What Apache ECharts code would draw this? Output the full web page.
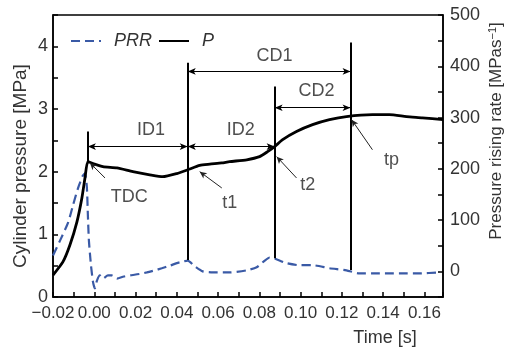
<!DOCTYPE html>
<html>
<head>
<meta charset="utf-8">
<script src="https://cdn.jsdelivr.net/npm/echarts@6/dist/echarts.min.js"></script>
<style>html,body{margin:0;padding:0;background:#fff;}#c{width:506px;height:348px;}</style>
</head>
<body>
<div id="c"></div>
<script>
// ---- data ----
const pTime = [-0.020,-0.0152,-0.0118,-0.0084,-0.006,-0.0045,-0.0031,-0.0006,0.0042,0.011,0.0187,0.0269,0.0332,0.040,0.0453,0.0511,0.056,0.0618,0.0656,0.0739,0.0801,0.084,0.0874,0.0913,0.098,0.1058,0.114,0.1222,0.1348,0.143,0.1513,0.159,0.169];
const pressure = [0.35,0.56,0.83,1.2,1.58,1.9,2.16,2.13,2.08,2.06,2.0,1.95,1.92,1.97,2.03,2.1,2.12,2.14,2.16,2.19,2.24,2.32,2.4,2.51,2.64,2.75,2.83,2.88,2.91,2.91,2.88,2.86,2.83];

const prrTime = [-0.020,-0.0166,-0.0127,-0.0103,-0.0079,-0.0055,-0.0045,-0.0036,-0.0031,-0.0026,-0.0016,-0.0006,0.0003,0.0013,0.0027,0.0042,0.0066,0.0085,0.011,0.0143,0.0173,0.0221,0.0255,0.0293,0.0327,0.0366,0.040,0.0429,0.0453,0.0487,0.0526,0.0574,0.0656,0.0739,0.0787,0.0826,0.085,0.0874,0.0932,0.0995,0.1058,0.114,0.1222,0.1285,0.1348,0.143,0.1513,0.1576,0.1672];
const prr = [31,60,95,129,162,187,191,165,110,60,12,-21,-33,-18,-8,-14,-8,-8,-14,-10,-8,-5,-2,2,6,11,16,19,21,10,0,-2,-2,2,8,21,27,25,16,12,12,6,2,-4,-4,-4,-4,-4,-2];

const xTickLabels = ['−0.02','0.00','0.02','0.04','0.06','0.08','0.10','0.12','0.14','0.16'];

// event markers: [time, bottom P, top P]
const eventLines = [[0.0453,0.59,3.74],[0.0874,0.62,3.36],[0.1242,0.43,4.06],[-0.0031,2.16,2.64]];
// interval arrows: [label, t start, t end, P level, label t, label P]
const intervals = [
  ['ID1',-0.0031,0.0453,2.40,0.0275,2.67],
  ['ID2',0.0453,0.0874,2.40,0.0710,2.67],
  ['CD1',0.0453,0.1242,3.60,0.0874,3.84],
  ['CD2',0.0874,0.1242,3.02,0.1077,3.28]
];
// pointers: [label, t at curve, P at curve, t tail, P tail, label t, label P]
const pointers = [
  ['TDC',-0.0021,2.14,0.0052,1.90,0.0170,1.60],
  ['t1',0.0511,2.00,0.0618,1.74,0.0656,1.50],
  ['t2',0.0884,2.24,0.0980,1.90,0.1034,1.79],
  ['tp',0.1247,2.83,0.1348,2.35,0.1440,2.18]
];

const FONT = 'Liberation Sans, Arial, sans-serif';
const pData = pTime.map((t,i)=>[t,pressure[i]]);
const prrData = prrTime.map((t,i)=>[t,prr[i]]);

const markData = [];
eventLines.forEach(e=>{
  markData.push([{coord:[e[0],e[1]],symbol:'none',lineStyle:{color:'#000',width:2,type:'solid'}},{coord:[e[0],e[2]],symbol:'none'}]);
});
intervals.forEach(a=>{
  markData.push([{coord:[a[1],a[3]],symbol:'arrow',symbolSize:[5,8],lineStyle:{color:'#000',width:1,type:'solid'}},{coord:[a[2],a[3]],symbol:'arrow',symbolSize:[5,8]}]);
});
pointers.forEach(p=>{
  markData.push([{coord:[p[1],p[2]],symbol:'arrow',symbolSize:[5,7],lineStyle:{color:'#222',width:1,type:'solid'}},{coord:[p[3],p[4]],symbol:'none'}]);
});
const labelData = intervals.map(a=>({name:a[0],value:[a[4],a[5]]})).concat(pointers.map(p=>({name:p[0],value:[p[5],p[6]]})));

const chart = echarts.init(document.getElementById('c'),null,{renderer:'canvas'});
chart.setOption({
  animation:false,
  backgroundColor:'#fff',
  grid:{left:53,right:63,top:15,bottom:51,show:true,borderColor:'#000',borderWidth:1.5},
  legend:{
    left:65, top:27, itemWidth:30, itemHeight:12, itemGap:6,
    data:['PRR','P'],
    itemStyle:{opacity:0},
    textStyle:{fontFamily:FONT,fontSize:18,fontStyle:'italic',color:'#333',padding:[0,0,0,8]}
  },
  xAxis:{
    type:'value', min:-0.02, max:0.169, interval:0.01,
    axisLine:{onZero:false,lineStyle:{color:'#000',width:1.5}},
    axisTick:{inside:true,length:5,lineStyle:{color:'#000',width:1.5}},
    splitLine:{show:false},
    axisLabel:{fontFamily:FONT,fontSize:17,color:'#333',margin:8,
      formatter:v=>{const k=Math.round(v*100); if(k%2!==0) return ''; const idx=(k+2)/2; return xTickLabels[idx]||'';}}
  },
  yAxis:[{
    type:'value', min:0, max:4.5, interval:0.5,
    axisLine:{show:true,onZero:false,lineStyle:{color:'#000',width:1.5}},
    axisTick:{show:true,inside:true,length:5,lineStyle:{color:'#000',width:1.5}},
    splitLine:{show:false},
    axisLabel:{fontFamily:FONT,fontSize:18,color:'#333',margin:5,formatter:v=>(Math.abs(v-Math.round(v))<1e-6?String(Math.round(v)):'')}
  },{
    type:'value', min:-50, max:500, interval:50, position:'right',
    axisLine:{show:true,onZero:false,lineStyle:{color:'#000',width:1.5}},
    axisTick:{show:true,inside:true,length:5,lineStyle:{color:'#000',width:1.5}},
    splitLine:{show:false},
    axisLabel:{fontFamily:FONT,fontSize:18,color:'#333',margin:7,formatter:v=>(v>=0&&v%100===0?String(v):'')}
  }],
  graphic:[
    {type:'text',x:21,y:166,rotation:Math.PI/2,style:{text:'Cylinder pressure [MPa]',font:'19px '+FONT,fill:'#333',align:'center',verticalAlign:'middle'}},
    {type:'text',x:496,y:131,rotation:Math.PI/2,style:{text:'Pressure rising rate [MPas{s|−1}]',font:'17px '+FONT,fill:'#333',align:'center',verticalAlign:'middle',
      rich:{s:{fontSize:11,fontFamily:FONT,fill:'#333',verticalAlign:'top',padding:[0,0,7,0]}}}},
    {type:'text',x:385,y:338,style:{text:'Time [s]',font:'18px '+FONT,fill:'#333',align:'center',verticalAlign:'middle'}}
  ],
  series:[
    {name:'PRR',type:'line',yAxisIndex:1,data:prrData,symbol:'none',smooth:0.2,
     lineStyle:{color:'#3a5aa6',width:2.2,type:[9,5]},itemStyle:{color:'#3a5aa6'}},
    {name:'P',type:'line',yAxisIndex:0,data:pData,symbol:'none',smooth:0.2,
     lineStyle:{color:'#000',width:2.8},itemStyle:{color:'#000'},
     markLine:{silent:true,animation:false,label:{show:false},emphasis:{disabled:true},data:markData}},
    {type:'scatter',yAxisIndex:0,data:labelData,symbolSize:0,silent:true,
     label:{show:true,position:'inside',formatter:p=>p.name,fontFamily:FONT,fontSize:18,color:'#222'}}
  ]
});
</script>
</body>
</html>
